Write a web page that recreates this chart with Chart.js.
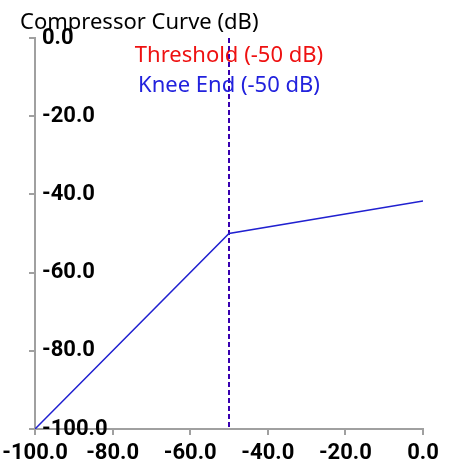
<!DOCTYPE html>
<html>
<head>
<meta charset="utf-8">
<script src="https://cdn.jsdelivr.net/npm/chart.js@4"></script>
<style>
  html, body { margin: 0; padding: 0; background: #fff; }
  #wrap { width: 455px; height: 469px; }
</style>
</head>
<body>
<div id="wrap"><canvas id="c"></canvas></div>
<script>
// ---- data ----
const curveInput = [-100, -50, 0];
const curveOutput = [-100, -50, -41.7];
const thresholdDb = -50;
const kneeEndDb = -50;
const xTicks = [-100, -80, -60, -40, -20, 0];
const yTicks = [0, -20, -40, -60, -80, -100];
const titleText = 'Compressor Curve (dB)';
const thresholdLabel = 'Threshold (-50 dB)';
const kneeLabel = 'Knee End (-50 dB)';

const annotationText = {
  id: 'annotationText',
  afterDatasetsDraw(chart) {
    const ctx = chart.ctx;
    const xs = chart.scales.x;
    const top = chart.chartArea.top;
    ctx.save();
    ctx.font = '22px "Noto Sans"';
    ctx.textAlign = 'center';
    ctx.textBaseline = 'middle';
    ctx.fillStyle = '#ee1111';
    ctx.fillText(thresholdLabel, xs.getPixelForValue(thresholdDb), top + 18);
    ctx.fillStyle = '#2222dd';
    ctx.fillText(kneeLabel, xs.getPixelForValue(kneeEndDb), top + 48);
    ctx.restore();
  }
};

const tickFont = { family: 'Roboto', size: 22, weight: 'bold' };

new Chart(document.getElementById('c'), {
  type: 'line',
  data: {
    datasets: [
      {
        label: 'Curve',
        data: curveInput.map((x, i) => ({ x: x, y: curveOutput[i] })),
        borderColor: '#2020d0',
        borderWidth: 1.5,
        pointRadius: 0,
        fill: false,
        tension: 0
      },
      {
        label: 'Knee End',
        data: [{ x: kneeEndDb, y: yTicks[0] }, { x: kneeEndDb, y: yTicks[yTicks.length - 1] }],
        borderColor: 'rgba(30,0,200,0.85)',
        borderWidth: 2,
        borderDash: [5, 3],
        pointRadius: 0
      },
      {
        label: 'Threshold',
        data: [{ x: thresholdDb, y: yTicks[0] }, { x: thresholdDb, y: yTicks[yTicks.length - 1] }],
        borderColor: 'rgba(200,0,40,1)',
        borderWidth: 2,
        borderDash: [5, 3],
        pointRadius: 0
      }
    ]
  },
  options: {
    responsive: true,
    maintainAspectRatio: false,
    animation: false,
    layout: { padding: { left: 20, right: 32, top: 0, bottom: 0 } },
    plugins: {
      legend: { display: false },
      tooltip: { enabled: false },
      title: {
        display: true,
        text: titleText,
        align: 'start',
        color: '#000',
        font: { family: '"Noto Sans"', size: 22, weight: 'normal', lineHeight: 1.2 },
        padding: { top: 10, bottom: 1.6 }
      }
    },
    scales: {
      x: {
        type: 'linear',
        min: xTicks[0],
        max: xTicks[xTicks.length - 1],
        afterBuildTicks(s) { s.ticks = xTicks.map(v => ({ value: v })); },
        afterFit(s) { s.height = 40; s.paddingLeft = 0; s.paddingRight = 0; },
        border: { display: true, color: '#a0a0a0', width: 2 },
        grid: { drawOnChartArea: false, drawTicks: true, tickLength: 6, color: '#a0a0a0', lineWidth: 2 },
        ticks: {
          color: '#000',
          font: tickFont,
          padding: 5,
          maxRotation: 0,
          autoSkip: false,
          callback: v => Number(v).toFixed(1)
        }
      },
      y: {
        type: 'linear',
        min: yTicks[yTicks.length - 1],
        max: yTicks[0],
        afterBuildTicks(s) { s.ticks = yTicks.slice().reverse().map(v => ({ value: v })); },
        afterFit(s) { s.width = 15; s.paddingTop = 0; s.paddingBottom = 0; },
        border: { display: true, color: '#a0a0a0', width: 2 },
        grid: { drawOnChartArea: false, drawTicks: true, tickLength: 6, color: '#a0a0a0', lineWidth: 2 },
        ticks: {
          mirror: true,
          color: '#000',
          font: tickFont,
          padding: 7,
          autoSkip: false,
          callback: v => Number(v).toFixed(1)
        }
      }
    }
  },
  plugins: [annotationText]
});
</script>
</body>
</html>
